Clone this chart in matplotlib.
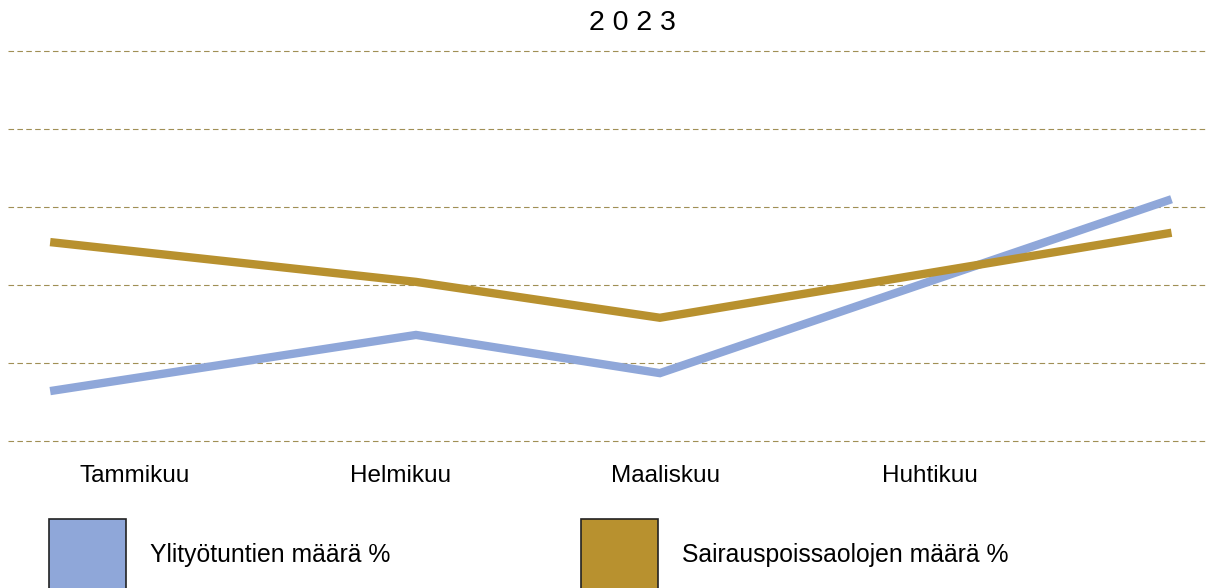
import matplotlib
matplotlib.use("Agg")
import matplotlib.pyplot as plt
from matplotlib.patches import Rectangle

plt.rcParams['font.family'] = ['Liberation Sans', 'DejaVu Sans']

title = "2 0 2 3"
months = ["Tammikuu", "Helmikuu", "Maaliskuu", "Huhtikuu"]
# x position of each sample, in month units
sample_x = [-0.32, 1.06, 1.98, 3.91]
overtime = [0.64, 1.36, 0.87, 3.10]
sick_leave = [2.55, 2.04, 1.58, 2.67]
series_names = ["Ylityötuntien määrä %", "Sairauspoissaolojen määrä %"]

blue = "#8FA7D9"
gold = "#B8912F"
grid_col = "#A08F55"

fig = plt.figure(figsize=(12.06, 5.88), dpi=100)
ax = fig.add_axes([8 / 1206, 147 / 588, 1198 / 1206, 390 / 588])

ax.plot(sample_x, overtime, color=blue, lw=6, solid_capstyle="butt", solid_joinstyle="miter")
ax.plot(sample_x, sick_leave, color=gold, lw=6, solid_capstyle="butt", solid_joinstyle="miter")

for y in range(0, 6):
    ax.axhline(y, color=grid_col, lw=0.8, ls=(0, (5, 3)), zorder=0, clip_on=False)

ax.set_xlim(-0.479, 4.04)
ax.set_ylim(0, 5)
ax.set_yticks([])
ax.set_xticks(range(len(months)), months, fontsize=17.5)
ax.tick_params(axis="x", length=0, pad=17.5)
for s in ax.spines.values():
    s.set_visible(False)

fig.text(632 / 1206, 1 - 23 / 588, title, ha="center", va="center", fontsize=20.5)

# legend boxes, cut off by the bottom edge like the original
for x0, col, name in [(49, blue, series_names[0]), (581, gold, series_names[1])]:
    fig.patches.append(Rectangle((x0 / 1206, -0.05), 77 / 1206, (588 - 519) / 588 + 0.05,
                                 transform=fig.transFigure, facecolor=col,
                                 edgecolor="#222222", lw=1.2))
    fig.text((x0 + 101) / 1206, 1 - 555 / 588, name, ha="left", va="center", fontsize=17.8)

fig.savefig("out.png", dpi=100)
